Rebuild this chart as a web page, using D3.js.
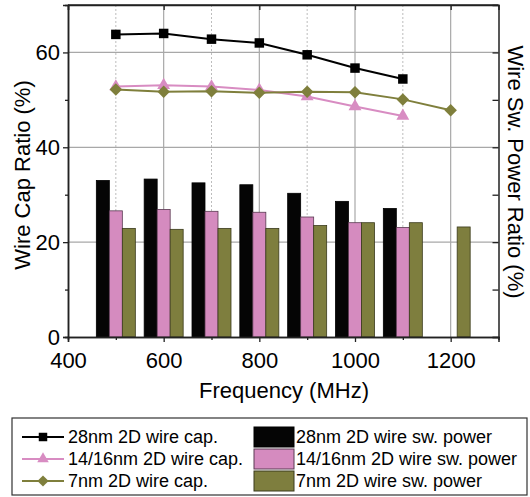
<!DOCTYPE html>
<html>
<head>
<meta charset="utf-8">
<script src="https://cdn.jsdelivr.net/npm/d3@7"></script>
<style>
  body { margin: 0; background: #fff; }
  svg { font-family: "Liberation Sans", Arial, sans-serif; }
</style>
</head>
<body>
<div class="svg-container"></div>
<script>
// Data
const freqs = [500, 600, 700, 800, 900, 1000, 1100, 1200];

const cap28 = [63.8, 64.0, 62.8, 62.0, 59.5, 56.7, 54.4, null];
const cap16 = [52.8, 53.1, 52.8, 52.1, 50.7, 48.6, 46.6, null];
const cap7  = [52.2, 51.7, 51.8, 51.5, 51.7, 51.6, 50.1, 47.8];

const pow28 = [33.0, 33.3, 32.5, 32.1, 30.3, 28.6, 27.1, null];
const pow16 = [26.6, 26.9, 26.5, 26.3, 25.3, 24.1, 23.1, null];
const pow7  = [22.9, 22.7, 22.9, 22.9, 23.5, 24.1, 24.1, 23.2];

const xTicks = [400, 600, 800, 1000, 1200];
const xMinor = [500, 700, 900, 1100];
const yTicks = [0, 20, 40, 60];
const yMinor = [10, 30, 50];

const lineSeries = [
  {name: '28nm 2D wire cap.', values: cap28, color: '#000000', symbol: d3.symbolSquare, size: 90, rot: 0},
  {name: '14/16nm 2D wire cap.', values: cap16, color: '#d88cc2', symbol: d3.symbolTriangle, size: 72, rot: 0},
  {name: '7nm 2D wire cap.', values: cap7, color: '#7f7f3c', symbol: d3.symbolSquare, size: 78, rot: 45}
];
const barSeries = [
  {name: '28nm 2D wire sw. power', values: pow28, color: '#050505', stroke: '#000'},
  {name: '14/16nm 2D wire sw. power', values: pow16, color: '#d58bbf', stroke: '#5a3a52'},
  {name: '7nm 2D wire sw. power', values: pow7, color: '#7e7e3e', stroke: '#3a3a1c'}
];

// Layout
const W = 530, H = 497;
const plot = {left: 68, right: 498.5, top: 5, bottom: 337};

const svg = d3.select('.svg-container')
  .append('svg')
  .attr('width', W)
  .attr('height', H);

const x = d3.scaleLinear().domain([400, 1300]).range([plot.left, plot.right]);
const y = d3.scaleLinear().domain([0, 70]).range([plot.bottom, plot.top]);

const barW = 13;
const sub = d3.scaleBand()
  .domain(barSeries.map(d => d.name))
  .range([-1.5 * barW, 1.5 * barW]);

// grid
const grid = svg.append('g');
grid.selectAll('.vmaj')
  .data(xTicks.slice(1))
  .enter().append('line')
  .attr('x1', d => x(d)).attr('x2', d => x(d))
  .attr('y1', plot.top).attr('y2', plot.bottom)
  .attr('stroke', '#a8a8a8').attr('stroke-width', 1.2);
grid.selectAll('.vmin')
  .data(xMinor)
  .enter().append('line')
  .attr('x1', d => x(d)).attr('x2', d => x(d))
  .attr('y1', plot.top).attr('y2', plot.bottom)
  .attr('stroke', '#bdbdbd').attr('stroke-width', 1)
  .attr('stroke-dasharray', '2,2');
grid.selectAll('.hmaj')
  .data(yTicks.slice(1))
  .enter().append('line')
  .attr('x1', plot.left).attr('x2', plot.right)
  .attr('y1', d => y(d)).attr('y2', d => y(d))
  .attr('stroke', '#a8a8a8').attr('stroke-width', 1.2);

// bars
barSeries.forEach(s => {
  svg.append('g')
    .selectAll('rect')
    .data(freqs.map((f, i) => ({f: f, v: s.values[i]})).filter(d => d.v != null))
    .enter().append('rect')
    .attr('x', d => x(d.f) + sub(s.name))
    .attr('y', d => y(d.v))
    .attr('width', sub.bandwidth())
    .attr('height', d => y(0) - y(d.v))
    .attr('fill', s.color)
    .attr('stroke', s.stroke)
    .attr('stroke-width', 0.8);
});

// lines
lineSeries.forEach(s => {
  const pts = freqs.map((f, i) => ({f: f, v: s.values[i]})).filter(d => d.v != null);
  svg.append('path')
    .datum(pts)
    .attr('fill', 'none')
    .attr('stroke', s.color)
    .attr('stroke-width', 2)
    .attr('d', d3.line().x(d => x(d.f)).y(d => y(d.v)));
  svg.append('g')
    .selectAll('path')
    .data(pts)
    .enter().append('path')
    .attr('transform', d => `translate(${x(d.f)},${y(d.v)}) rotate(${s.rot})`)
    .attr('d', d3.symbol().type(s.symbol).size(s.size))
    .attr('fill', s.color);
});

// axes
const axisColor = '#222';
svg.append('g')
  .attr('transform', `translate(0,${plot.bottom})`)
  .call(d3.axisBottom(x).tickValues(xTicks).tickSize(5).tickPadding(10).tickFormat(d3.format('d')));
svg.append('g')
  .attr('transform', `translate(0,${plot.bottom})`)
  .call(d3.axisBottom(x).tickValues(xMinor).tickSize(3).tickFormat(''));
svg.append('g')
  .attr('transform', `translate(0,${plot.top})`)
  .call(d3.axisBottom(x).tickValues(xTicks).tickSize(5).tickFormat(''));
svg.append('g')
  .attr('transform', `translate(${plot.left},0)`)
  .call(d3.axisLeft(y).tickValues(yTicks).tickSize(5).tickPadding(3));
svg.append('g')
  .attr('transform', `translate(${plot.left},0)`)
  .call(d3.axisLeft(y).tickValues(yMinor).tickSize(3).tickFormat(''));
svg.append('g')
  .attr('transform', `translate(${plot.right},0)`)
  .call(d3.axisLeft(y).tickValues(yTicks.concat(yMinor)).tickSize(6).tickFormat(''));
// top frame
svg.append('line')
  .attr('x1', plot.left).attr('x2', plot.right)
  .attr('y1', plot.top).attr('y2', plot.top)
  .attr('stroke', axisColor).attr('stroke-width', 1.5);

svg.selectAll('.domain').attr('stroke', axisColor).attr('stroke-width', 1.5);
svg.selectAll('.tick line').attr('stroke', axisColor).attr('stroke-width', 1.3);
svg.selectAll('.tick text').attr('font-size', 22).attr('fill', '#000')
  .attr('font-family', '"Liberation Sans", Arial, sans-serif');

// axis titles
svg.append('text')
  .attr('transform', 'translate(30,175) rotate(-90)')
  .attr('text-anchor', 'middle')
  .attr('font-size', 22)
  .text('Wire Cap Ratio (%)');
svg.append('text')
  .attr('transform', 'translate(508,172) rotate(90)')
  .attr('text-anchor', 'middle')
  .attr('font-size', 22)
  .text('Wire Sw. Power Ratio (%)');
svg.append('text')
  .attr('x', 284)
  .attr('y', 398)
  .attr('text-anchor', 'middle')
  .attr('font-size', 22)
  .text('Frequency (MHz)');

// legend
const legend = svg.append('g');
legend.append('rect')
  .attr('x', 12).attr('y', 418)
  .attr('width', 515).attr('height', 77)
  .attr('fill', '#fff').attr('stroke', '#333').attr('stroke-width', 1.2);

const rowY = [437, 459, 481];
lineSeries.forEach((s, i) => {
  const g = legend.append('g').attr('transform', `translate(0,${rowY[i]})`);
  g.append('line').attr('x1', 22).attr('x2', 64).attr('y1', 0).attr('y2', 0)
    .attr('stroke', s.color).attr('stroke-width', 2);
  g.append('path').attr('transform', `translate(43,0) rotate(${s.rot})`)
    .attr('d', d3.symbol().type(s.symbol).size(s.size * 0.8))
    .attr('fill', s.color);
  g.append('text').attr('x', 68).attr('y', 0).attr('dy', '0.35em')
    .attr('font-size', 18).text(s.name);
});
barSeries.forEach((s, i) => {
  const g = legend.append('g').attr('transform', `translate(0,${rowY[i]})`);
  g.append('rect').attr('x', 254).attr('y', -10).attr('width', 40).attr('height', 20)
    .attr('fill', s.color).attr('stroke', s.stroke).attr('stroke-width', 1);
  g.append('text').attr('x', 296).attr('y', 0).attr('dy', '0.35em')
    .attr('font-size', 18).text(s.name);
});
</script>
</body>
</html>
